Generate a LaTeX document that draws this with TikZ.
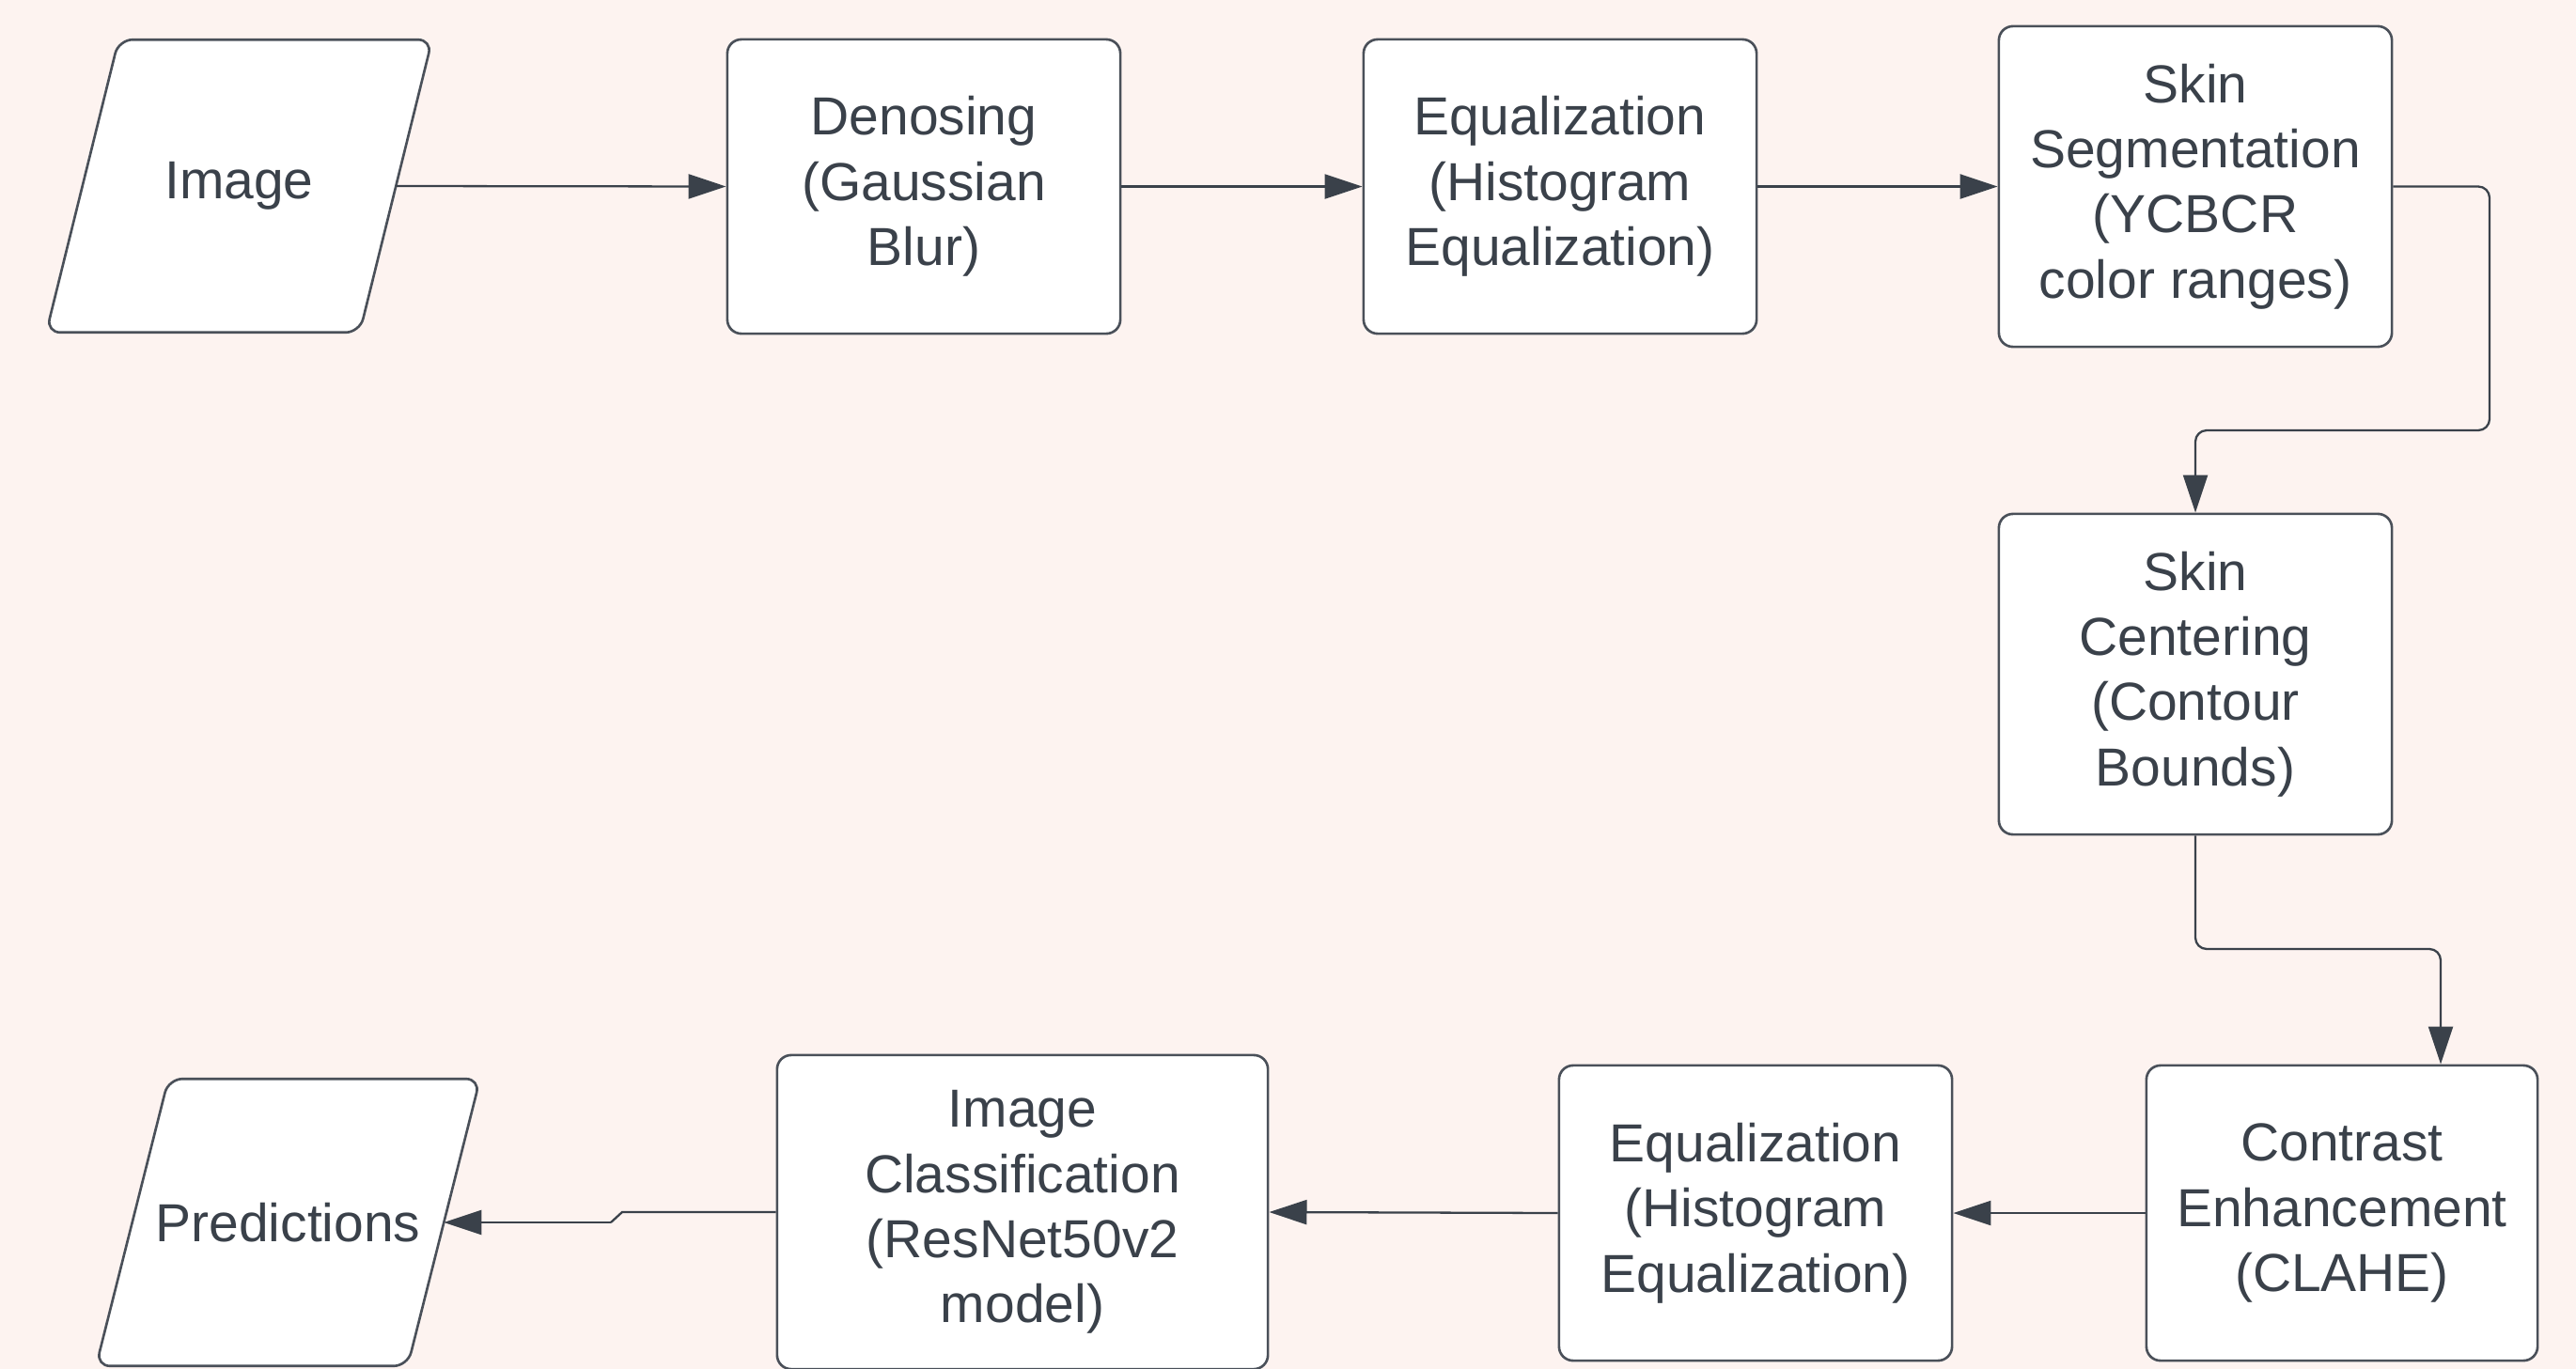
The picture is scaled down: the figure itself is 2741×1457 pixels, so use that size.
\documentclass[tikz,border=0pt]{standalone}
\usepackage{fontspec}
\setmainfont{Liberation Sans}
\usetikzlibrary{arrows.meta,backgrounds}
\definecolor{bg}{HTML}{FDF3F0}
\definecolor{ink}{HTML}{3A414A}
\definecolor{edge}{HTML}{4A5059}
\tikzset{
  stepbox/.style={draw=edge, line width=0.75pt, fill=white, rounded corners=0.15cm,
    align=center, inner sep=0pt, text=ink,
    font=\fontsize{16.2pt}{19.7pt}\selectfont},
  iotext/.style={inner sep=0pt, text=ink,
    font=\fontsize{16.2pt}{19.7pt}\selectfont},
  ioshape/.style={draw=edge, line width=0.75pt, fill=white, rounded corners=0.15cm},
  conn/.style={draw=ink, line width=0.65pt, rounded corners=0.12cm,
    -{Triangle[length=0.4cm,width=0.26cm]}},
  connplain/.style={draw=ink, line width=0.65pt}
}
\begin{document}
\begin{tikzpicture}[x=0.01cm,y=-0.01cm]
\useasboundingbox (0,0) rectangle (2741,1457);
\begin{scope}[on background layer]
\fill[bg] (0,0) rectangle (2741,1457);
\end{scope}

\node[iotext, minimum width=3.32cm, minimum height=3.10cm] (img) at (254.5,198) {Image};
\node[stepbox, minimum width=4.18cm, minimum height=3.13cm] (den) at (983,198.5) {Denosing\\(Gaussian\\Blur)};
\node[stepbox, minimum width=4.18cm, minimum height=3.13cm] (eqa) at (1660,198.5) {Equalization\\(Histogram\\Equalization)};
\node[stepbox, minimum width=4.18cm, minimum height=3.41cm] (seg) at (2336,198.5) {Skin\\Segmentation\\(YCBCR\\color ranges)};
\node[stepbox, minimum width=4.18cm, minimum height=3.41cm] (cen) at (2336,717.5) {Skin\\Centering\\(Contour\\Bounds)};
\node[stepbox, minimum width=4.16cm, minimum height=3.14cm] (con) at (2492,1291) {Contrast\\Enhancement\\(CLAHE)};
\node[stepbox, minimum width=4.18cm, minimum height=3.14cm] (eqb) at (1868,1291) {Equalization\\(Histogram\\Equalization)};
\node[stepbox, minimum width=5.22cm, minimum height=3.34cm] (cls) at (1088,1290) {Image\\Classification\\(ResNet50v2\\model)};
\node[iotext, minimum width=3.30cm, minimum height=3.04cm] (pred) at (306.5,1301) {Predictions};

\begin{scope}[on background layer]
\draw[ioshape] ([xshift=0.385cm]img.north west) -- ([xshift=0.385cm]img.north east)
  -- ([xshift=-0.385cm]img.south east) -- ([xshift=-0.385cm]img.south west) -- cycle;
\draw[ioshape] ([xshift=0.385cm]pred.north west) -- ([xshift=0.385cm]pred.north east)
  -- ([xshift=-0.385cm]pred.south east) -- ([xshift=-0.385cm]pred.south west) -- cycle;
\end{scope}

\coordinate (c1) at (2649,458);
\coordinate (c2) at (2597,1010);
\coordinate (j1) at (662,1290);
\coordinate (j2) at (650,1301);

\draw[conn] (img.east) -- (den.west);
\draw[conn] (den.east) -- (eqa.west);
\draw[conn] (eqa.east) -- (seg.west);
\draw[conn] (seg.east) -| (c1) -| (cen.north);
\draw[conn] (cen.south) |- (c2) -- (c2 |- con.north);
\draw[conn] (con.west) -- (eqb.east);
\draw[conn] (eqb.west) -- (cls.east);
\draw[connplain] (cls.west) -- (j1) -- (j2);
\draw[conn] (j2) -- (pred.east);
\end{tikzpicture}
\end{document}
